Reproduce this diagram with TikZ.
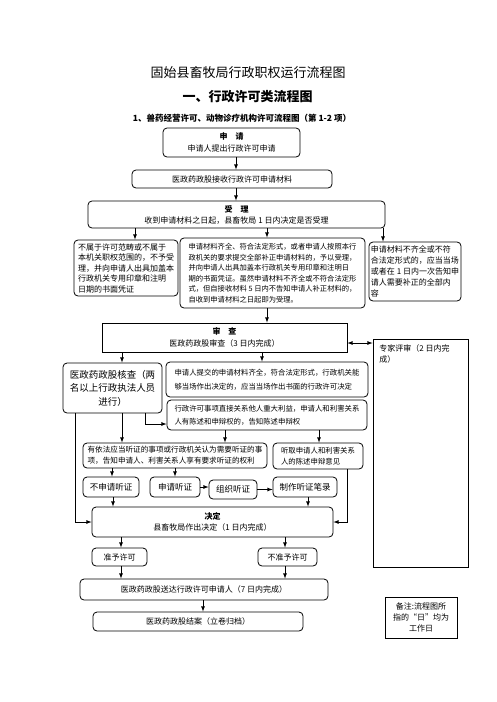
\documentclass[tikz,border=0pt]{standalone}
\usepackage{fontspec}
\setmainfont{Noto Sans CJK SC}
\usetikzlibrary{shapes,arrows,fit,positioning}
\def\Yz{医政药政股}

\begin{document}
\begin{tikzpicture}[x=1pt,y=-1pt,% 1pt per pixel of the page
				every node/.style={
					align=center,  		% use this so that the "\\" for line break works
					inner sep=2pt
				},
				line width=0.8pt,
				>=latex,
				box/.style={rectangle,rounded corners=4pt,draw=black,font=\fontsize{8}{12}\selectfont},
				sqbox/.style={rectangle,draw=black,font=\fontsize{8}{12}\selectfont},
				every edge/.style={draw,line width=0.8pt}
			]
			\useasboundingbox (0,0) rectangle (496,702);
			% titles
			\node(T1) at (248,73) {\fontsize{13}{15}\selectfont 固始县畜牧局行政职权运行流程图};
			\node(T2) at (247.5,97) {\fontsize{13}{15}\selectfont\bfseries 一、行政许可类流程图};
			\node(T3) at (242,118) {\fontsize{8.5}{10}\selectfont\bfseries 1、兽药经营许可、动物诊疗机构许可流程图（第 1-2 项）};
			% application and acceptance
			\node[box,minimum width=137pt,minimum height=29pt](R1) at (231.5,142.5){\textbf{申\hspace{1em}请}\\申请人提出行政许可申请};
			\node[box,minimum width=200pt,minimum height=18pt](R2) at (232,179){\Yz{}接收行政许可申请材料};
			\node[box,minimum width=297pt,minimum height=27pt,font=\fontsize{8}{11}\selectfont](R3) at (236.5,214.5){\textbf{受\hspace{1em}理}\\收到申请材料之日起，县畜牧局 1 日内决定是否受理};
			\node[box,minimum width=104pt,minimum height=56pt,align=left,font=\fontsize{8}{10.5}\selectfont](R4) at (126,268){不属于许可范畴或不属于\\本机关职权范围的，不予受\\理，并向申请人出具加盖本\\行政机关专用印章和注明\\日期的书面凭证};
			\node[box,minimum width=185pt,minimum height=70pt,align=left,font=\fontsize{7.3}{10.5}\selectfont](R5) at (272.5,273){申请材料齐全、符合法定形式，或者申请人按照本行\\政机关的要求提交全部补正申请材料的，予以受理，\\并向申请人出具加盖本行政机关专用印章和注明日\\期的书面凭证。虽然申请材料不齐全或不符合法定形\\式，但自接收材料 5 日内不告知申请人补正材料的，\\自收到申请材料之日起即为受理。};
			\node[box,minimum width=92pt,minimum height=59pt,align=left,font=\fontsize{8}{10.8}\selectfont](R6) at (415,271.5){申请材料不齐全或不符\\合法定形式的，应当当场\\或者在 1 日内一次告知申\\请人需要补正的全部内\\容};
			% review
			\node[sqbox,minimum width=245pt,minimum height=29pt](R7) at (224.5,337.5){\textbf{审\hspace{1em}查}\\\Yz{}审查（3 日内完成）};
			\node[sqbox,minimum width=95pt,minimum height=228pt](R8) at (420.5,453){};
			\node[anchor=north west,align=left,font=\fontsize{8}{11}\selectfont](R8t) at (377,342){专家评审（2 日内完\\成）};
			\node[box,minimum width=99pt,minimum height=50pt,font=\fontsize{9.5}{13.5}\selectfont](R9) at (112.5,388){\Yz{}核查（两\\名以上行政执法人员\\进行）};
			\node[box,minimum width=202pt,minimum height=35pt,align=left,font=\fontsize{7.4}{13.5}\selectfont](R10) at (267,379.5){申请人提交的申请材料齐全，符合法定形式，行政机关能\\够当场作出决定的，应当当场作出书面的行政许可决定};
			\node[box,minimum width=200pt,minimum height=30pt,align=left,font=\fontsize{7.4}{13}\selectfont](R11) at (267,415){行政许可事项直接关系他人重大利益，申请人和利害关系\\人有陈述和申辩权的，告知陈述申辩权};
			% hearing
			\node[box,minimum width=184pt,minimum height=25pt,align=left,font=\fontsize{7.6}{11}\selectfont](R12) at (175,455.5){有依法应当听证的事项或行政机关认为需要听证的事\\项，告知申请人、利害关系人享有要求听证的权利};
			\node[box,minimum width=90pt,minimum height=26pt,align=left,font=\fontsize{7.4}{11.5}\selectfont](R13) at (318,456){听取申请人和利害关系\\人的陈述申辩意见};
			\node[box,minimum width=56pt,minimum height=20pt,font=\fontsize{8.5}{10}\selectfont](R14) at (111,487){不申请听证};
			\node[box,minimum width=50pt,minimum height=20pt,font=\fontsize{8.5}{10}\selectfont](R15) at (175,487){申请听证};
			\node[box,minimum width=48pt,minimum height=19pt,font=\fontsize{8.5}{10}\selectfont](R16) at (233,489.5){组织听证};
			\node[box,minimum width=64pt,minimum height=20pt,font=\fontsize{8.5}{10}\selectfont](R17) at (305,487){制作听证笔录};
			% decision
			\node[box,minimum width=241pt,minimum height=30pt,font=\fontsize{8}{11.5}\selectfont](R18) at (212.5,522){\textbf{决定}\\县畜牧局作出决定（1 日内完成）};
			\node[box,minimum width=55pt,minimum height=18pt](R19) at (119.5,557){准予许可};
			\node[box,minimum width=59pt,minimum height=18pt](R20) at (287.5,557){不准予许可};
			\node[box,minimum width=248pt,minimum height=21pt](R21) at (204,589.5){\Yz{}送达行政许可申请人（7 日内完成）};
			\node[box,minimum width=210pt,minimum height=19pt](R22) at (198,621.5){\Yz{}结案（立卷归档）};
			\node[sqbox,minimum width=72pt,minimum height=41pt,font=\fontsize{8}{11}\selectfont](R23) at (421,617.5){备注:流程图所\\指的“日”均为\\工作日};
			\path[->]
			(R1.south -| 236,0) edge (R2.north -| 236,0)
			(R2.south -| 236,0) edge (R3.north -| 236,0)
			(R3.south -| 135,0) edge (R4.north -| 135,0)
			(R3.south -| 267,0) edge (R5.north -| 267,0)
			(R3.south -| 383,0) edge (R6.north -| 383,0)
			(R5.south -| 267,0) edge (R7.north -| 267,0)
			(R7.south -| 122,0) edge (R9.north -| 122,0)
			(R7.south -| 262,0) edge (R10.north -| 262,0)
			(R9.south -| 122,0) edge (R12.north -| 122,0)
			(R11.south -| 225,0) edge (R12.north -| 225,0)
			(R11.south -| 319,0) edge (R13.north -| 319,0)
			(R12.south -| 112,0) edge (R14.north -| 112,0)
			(R12.south -| 175,0) edge (R15.north -| 175,0)
			(R15.east) edge (R15.east -| R16.west)
			(R16.east) edge (R16.east -| R17.west)
			(R14.south -| 113,0) edge (R18.north -| 113,0)
			(R17.south -| 308,0) edge (R18.north -| 308,0)
			(R18.south -| 121,0) edge (R19.north -| 121,0)
			(R18.south -| 285,0) edge (R20.north -| 285,0)
			(R19.south -| 121,0) edge (R21.north -| 121,0)
			(R20.south -| 285,0) edge (R21.north -| 285,0)
			(R21.south -| 203,0) edge (R22.north -| 203,0)
			;
			\coordinate(D1) at ([yshift=-5.5pt]R7.east);
			\coordinate(D2) at ([yshift=-9pt]R11.west);
			\draw[<->] (D1) -- (D1 -| R8.west);
			\draw[->] (R9.south -| 145,0) |- (D2);
			\draw[->] (R9.south -| 75,0) |- (R18.west);
			\draw[->] (R13.south -| 347,0) |- (R18.east);
		\end{tikzpicture}
\end{document}
